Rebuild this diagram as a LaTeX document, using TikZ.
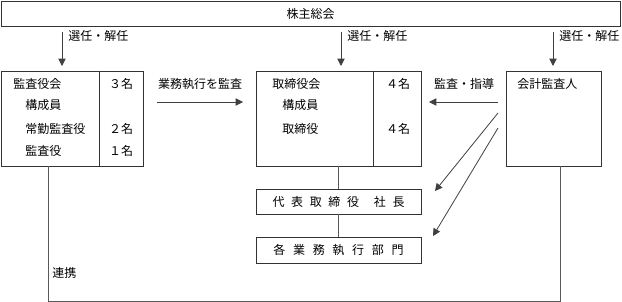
\documentclass[tikz,border=0pt]{standalone}
\usepackage{fontspec}
\setmainfont{Noto Sans CJK JP}
\usetikzlibrary{arrows.meta}
\newcommand\gp{\hspace{5pt}}
\newcommand\gq{\hspace{5.8pt}}
\begin{document}
\begin{tikzpicture}[x=0.75pt,y=-0.75pt,
  font=\fontsize{9pt}{11pt}\selectfont,
  box/.style={draw=black!80,line width=0.6pt,inner sep=0pt},
  txt/.style={inner sep=0pt,anchor=west},
  ctxt/.style={inner sep=0pt},
  conn/.style={draw=black!65,line width=0.6pt},
  arr/.style={draw=black!75,line width=0.6pt,-{Triangle[length=5.5pt,width=5.5pt]}}]
\useasboundingbox (0,0) rectangle (622,302);
% boxes
\node[box,minimum width=464.25pt,minimum height=18.75pt] (top) at (310.5,13.5) {株主総会};
\node[box,minimum width=106.5pt,minimum height=71.25pt] (lbox) at (72,118.5) {};
\node[box,minimum width=123.75pt,minimum height=71.25pt] (mbox) at (338.5,118.5) {};
\node[box,minimum width=71.25pt,minimum height=71.25pt] (rbox) at (553.5,118.5) {};
\node[box,minimum width=123.75pt,minimum height=18.75pt] (dbox) at (338.5,201.5)
  {代\gp 表\gp 取\gp 締\gp 役\hspace{11pt}社\gp 長};
\node[box,minimum width=123.75pt,minimum height=19.5pt] (gbox) at (338.5,250)
  {各\gq 業\gq 務\gq 執\gq 行\gq 部\gq 門};
% dividers
\draw[draw=black!80,line width=0.6pt] (99,71) -- (99,166);
\draw[draw=black!80,line width=0.6pt] (373,71) -- (373,166);
% left box texts
\node[txt] (l1) at (13,84) {監査役会};
\node[txt] (l2) at (25,105) {構成員};
\node[txt] (l3) at (25,129) {常勤監査役};
\node[txt] (l4) at (25,151) {監査役};
\node[ctxt] (n1) at (121,84) {３名};
\node[ctxt] (n2) at (121,129) {２名};
\node[ctxt] (n3) at (121,151) {１名};
% middle box texts
\node[txt] (m1) at (272,84) {取締役会};
\node[txt] (m2) at (282,105) {構成員};
\node[txt] (m3) at (282,129) {取締役};
\node[ctxt] (n4) at (398,84) {４名};
\node[ctxt] (n5) at (398,129) {４名};
% right box text
\node[txt] (r1) at (517,84) {会計監査人};
% election arrows
\coordinate (s1) at (62,32);  \coordinate (e1) at (62,66);
\coordinate (s2) at (341,32); \coordinate (e2) at (341,66);
\coordinate (s3) at (553,32); \coordinate (e3) at (553,66);
\draw[arr] (s1) -- (e1);
\draw[arr] (s2) -- (e2);
\draw[arr] (s3) -- (e3);
\node[txt] (t1) at (68,36) {選任・解任};
\node[txt] (t2) at (347,36) {選任・解任};
\node[txt] (t3) at (559,36) {選任・解任};
% horizontal arrows
\coordinate (h1s) at (157,102); \coordinate (h1e) at (243,102);
\draw[arr] (h1s) -- (h1e);
\node[ctxt] (hl1) at (200,84) {業務執行を監査};
\coordinate (h2s) at (498,102); \coordinate (h2e) at (429,102);
\draw[arr] (h2s) -- (h2e);
\node[ctxt] (hl2) at (464,84) {監査・指導};
% diagonal arrows
\coordinate (d1s) at (498,113); \coordinate (d1e) at (435,191);
\coordinate (d2s) at (498,128); \coordinate (d2e) at (433,236);
\draw[arr] (d1s) -- (d1e);
\draw[arr] (d2s) -- (d2e);
% vertical connectors
\draw[conn] (mbox) -- (dbox);
\draw[conn] (dbox) -- (gbox);
% renkei
\coordinate (c1) at (48,301);
\coordinate (c2) at (560,301);
\draw[conn] (lbox.south -| c1) -- (c1) -- (c2) -- (rbox.south -| c2);
\node[txt] (rk) at (52,273) {連携};
\end{tikzpicture}
\end{document}
